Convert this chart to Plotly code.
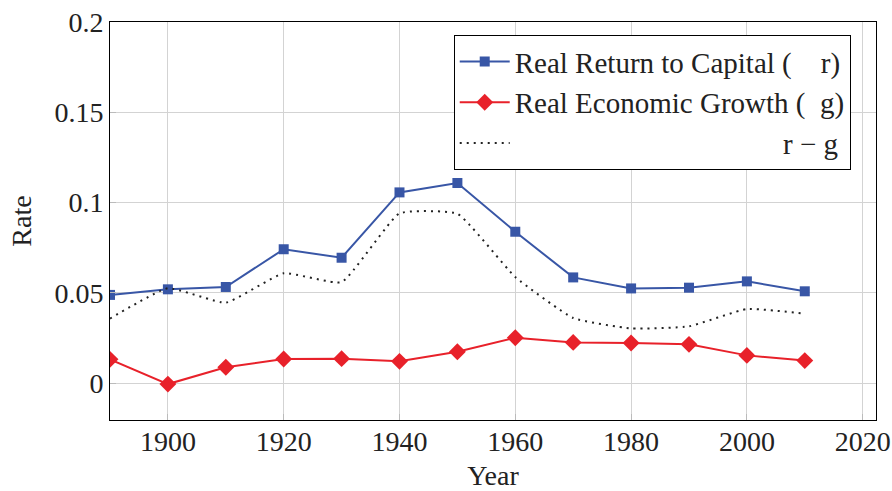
import plotly.graph_objects as go

years = [1890, 1900, 1910, 1920, 1930, 1940, 1950, 1960, 1970, 1980, 1990, 2000, 2010]
r_values = [0.0488, 0.0519, 0.0532, 0.0741, 0.0694, 0.1056, 0.1108, 0.0838, 0.0585, 0.0524, 0.0528, 0.0563, 0.0508]
g_values = [0.0131, -0.0006, 0.0087, 0.0133, 0.0135, 0.0120, 0.0173, 0.0251, 0.0225, 0.0222, 0.0214, 0.0153, 0.0124]
rg_values = [0.0357, 0.0525, 0.0445, 0.0608, 0.0559, 0.0940, 0.0938, 0.0587, 0.0360, 0.0302, 0.0314, 0.0410, 0.0384]

x_ticks = [1900, 1920, 1940, 1960, 1980, 2000, 2020]
y_ticks = [0, 0.05, 0.1, 0.15, 0.2]
y_tick_labels = ["0", "0.05", "0.1", "0.15", "0.2"]

BLUE = "#3856a6"
RED = "#e8212a"
FONT = "Liberation Serif"
TXT = "#222222"
NB = "\u00a0"

fig = go.Figure()
fig.add_trace(go.Scatter(
    x=years, y=r_values, mode="lines+markers",
    name="Real Return to Capital (" + NB * 4 + "r)",
    line=dict(color=BLUE, width=2),
    marker=dict(symbol="square", size=10, color=BLUE),
))
fig.add_trace(go.Scatter(
    x=years, y=g_values, mode="lines+markers",
    name="Real Economic Growth (" + NB * 2 + "g)",
    line=dict(color=RED, width=2),
    marker=dict(symbol="diamond", size=13, color=RED),
))
fig.add_trace(go.Scatter(
    x=years, y=rg_values, mode="lines",
    name=NB * 37 + "r − g",
    line=dict(color=TXT, width=2, dash="2px,5px", shape="spline", smoothing=0.4),
))

axis_common = dict(
    showline=True, linecolor="black", linewidth=1, mirror=True,
    showgrid=True, gridcolor="#d3d3d3", gridwidth=1,
    ticks="inside", ticklen=6, tickcolor="#bbbbbb",
    tickfont=dict(family=FONT, size=28, color=TXT),
    zeroline=False, automargin=False,
)

fig.update_xaxes(range=[1890, 2022.3], tickvals=x_ticks, ticklabelstandoff=-4,
                 title=dict(text="Year", font=dict(family=FONT, size=28, color=TXT), standoff=18),
                 **axis_common)
fig.update_yaxes(range=[-0.0205, 0.2], tickvals=y_ticks, ticktext=y_tick_labels,
                 title=dict(text="Rate", font=dict(family=FONT, size=28, color=TXT), standoff=14),
                 **axis_common)

fig.update_layout(
    width=892, height=491,
    margin=dict(l=110, r=16, t=22, b=71),
    paper_bgcolor="white", plot_bgcolor="white",
    font=dict(family=FONT, size=28, color=TXT),
    showlegend=True,
    legend=dict(
        x=0.967, y=0.967, xanchor="right", yanchor="top",
        bgcolor="white", bordercolor="black", borderwidth=1,
        font=dict(family=FONT, size=29, color=TXT),
        itemwidth=50, tracegroupgap=0,
    ),
)

fig.write_html("out.html", config={"displayModeBar": False},
               post_script="document.body.style.margin='0';")
